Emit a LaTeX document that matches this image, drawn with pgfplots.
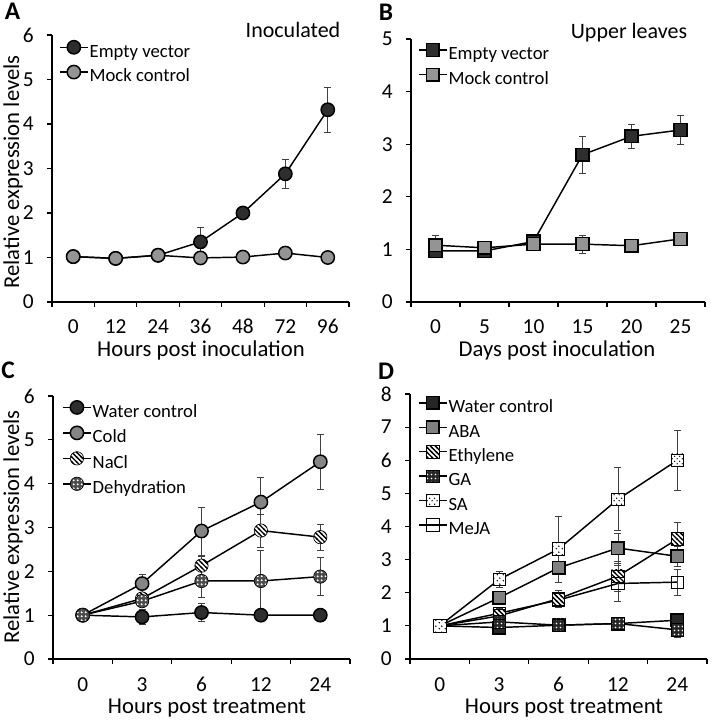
\documentclass[border=0pt]{standalone}
\usepackage{fontspec}
\setmainfont{Carlito}
\usepackage{pgfplots}
\pgfplotsset{compat=1.18}
\usetikzlibrary{patterns}

\pgfdeclarepatternformonly{stripesNW}{\pgfqpoint{-1pt}{-1pt}}{\pgfqpoint{4.6pt}{4.6pt}}{\pgfqpoint{3.6pt}{3.6pt}}{%
  \pgfsetlinewidth{1pt}\pgfpathmoveto{\pgfqpoint{-0.5pt}{4.1pt}}\pgfpathlineto{\pgfqpoint{4.1pt}{-0.5pt}}\pgfusepath{stroke}}
\pgfdeclarepatternformonly{holesD}{\pgfqpoint{0pt}{0pt}}{\pgfqpoint{3pt}{3pt}}{\pgfqpoint{3pt}{3pt}}{%
  \pgfpathcircle{\pgfqpoint{1.5pt}{1.5pt}}{0.95pt}\pgfusepath{fill}}
\pgfdeclarepatternformonly{dotsGA}{\pgfqpoint{0pt}{0pt}}{\pgfqpoint{2.6pt}{2.6pt}}{\pgfqpoint{2.6pt}{2.6pt}}{%
  \pgfpathcircle{\pgfqpoint{1.3pt}{1.3pt}}{0.75pt}\pgfusepath{fill}}
\pgfdeclarepatternformonly{dotsSA}{\pgfqpoint{0pt}{0pt}}{\pgfqpoint{4pt}{4pt}}{\pgfqpoint{4pt}{4pt}}{%
  \pgfpathcircle{\pgfqpoint{1pt}{1pt}}{0.6pt}\pgfpathcircle{\pgfqpoint{3pt}{3pt}}{0.6pt}\pgfusepath{fill}}

\def\circpath{\pgfpathcircle{\pgfpointorigin}{\pgfplotmarksize}}
\def\sqpath{\pgfpathrectangle{\pgfqpoint{-\pgfplotmarksize}{-\pgfplotmarksize}}{\pgfqpoint{2\pgfplotmarksize}{2\pgfplotmarksize}}}
\newcommand\declpatmark[5]{%
  \pgfdeclareplotmark{#1}{\pgfscope#2\pgfsetfillcolor{#3}\pgfusepathqfill
    #2\pgfsetfillpattern{#4}{#5}\pgfusepathqfillstroke\endpgfscope}}
\declpatmark{cNaCl}{\circpath}{white}{stripesNW}{black}
\declpatmark{cDehy}{\circpath}{black!70}{holesD}{white}
\declpatmark{sEth}{\sqpath}{white}{stripesNW}{black}
\declpatmark{sGA}{\sqpath}{black!85}{dotsGA}{white}
\declpatmark{sSA}{\sqpath}{white}{dotsSA}{black}

\pgfplotsset{
  panel/.style={
    scale only axis, anchor=south west, clip=false,
    axis lines=left, axis line style={-, line width=0.9pt},
    tick align=outside, major tick length=3.5pt,
    tick style={line width=0.9pt, black},
    /pgf/number format/assume math mode=true,
    tick label style={font=\fontsize{16}{18}\selectfont},
    yticklabel style={anchor=east, inner sep=0pt, xshift=-10pt},
    xticklabels={},
    extra x tick style={major tick length=0pt, xticklabel style={anchor=base, inner sep=0pt, yshift=-24pt}},
    legend cell align=left,
    legend image code/.code={\draw[mark repeat=2,mark phase=2,##1] plot coordinates {(0pt,3.8pt) (10.5pt,3.8pt) (21pt,3.8pt)};},
    legend style={draw=none, fill=none, inner sep=0pt, outer sep=0pt, anchor=north west,
      row sep=2.5pt, /tikz/column sep=0pt,
      nodes={inner sep=0.8pt, text height=10pt, text depth=3pt, font=\fontsize{14}{15}\selectfont}},
  },
  ser/.style={black, line width=1.1pt, mark size=#1,
    mark options={solid, line width=0.5pt, draw=black},
    /pgfplots/error bars/y dir=both, /pgfplots/error bars/y explicit,
    /pgfplots/error bars/error bar style={line width=0.6pt, black!75},
    /pgfplots/error bars/error mark options={rotate=90, mark size=2.6pt, line width=0.6pt, black!75}},
  ser/.default=5pt,
}

\begin{document}
\begin{tikzpicture}
\path[use as bounding box] (0,0) rectangle (535.5pt,544.5pt);

% ---------- A ----------
\begin{axis}[panel, at={(39pt,318pt)}, width=222.75pt, height=200.25pt,
  xmin=-0.5, xmax=6.5, xtick={-0.5,0.5,...,6.5},
  extra x ticks={0,1,2,3,4,5,6}, extra x tick labels={0,12,24,36,48,72,96},
  ymin=0, ymax=6, ytick={0,...,6},
  legend style={at={(axis description cs:0.024,0.979)}}]
\addplot[ser, mark=*, mark options={fill=black!82}] table[x=x,y=y,y error=e] {
x y e
0 1.02 0.05
1 0.98 0.05
2 1.05 0.05
3 1.35 0.33
4 2.00 0.08
5 2.88 0.32
6 4.32 0.50
};
\addlegendentry{Empty vector}
\addplot[ser, mark=*, mark options={fill=black!42}] table[x=x,y=y,y error=e] {
x y e
0 1.02 0.05
1 0.98 0.04
2 1.05 0.05
3 0.99 0.05
4 1.01 0.05
5 1.10 0.06
6 1.00 0.05
};
\addlegendentry{Mock control}
\end{axis}

% ---------- B ----------
\begin{axis}[panel, at={(308.25pt,318pt)}, width=220.5pt, height=197.25pt,
  xmin=-0.5, xmax=5.5, xtick={-0.5,0.5,...,5.5},
  extra x ticks={0,1,2,3,4,5}, extra x tick labels={0,5,10,15,20,25},
  ymin=0, ymax=5, ytick={0,...,5},
  legend style={at={(axis description cs:0.024,0.982)}}]
\addplot[ser=4.8pt, mark=square*, mark options={fill=black!82}] table[x=x,y=y,y error=e] {
x y e
0 0.97 0.10
1 0.97 0.05
2 1.15 0.06
3 2.80 0.35
4 3.15 0.23
5 3.27 0.27
};
\addlegendentry{Empty vector}
\addplot[ser=4.8pt, mark=square*, mark options={fill=black!42}] table[x=x,y=y,y error=e] {
x y e
0 1.08 0.18
1 1.03 0.05
2 1.10 0.06
3 1.10 0.17
4 1.07 0.06
5 1.20 0.06
};
\addlegendentry{Mock control}
\end{axis}

% ---------- C ----------
\begin{axis}[panel, at={(39.75pt,50.25pt)}, width=222.75pt, height=197.25pt,
  xmin=-0.5, xmax=4.5, xtick={-0.5,0.5,...,4.5},
  extra x ticks={0,1,2,3,4}, extra x tick labels={0,3,6,12,24},
  ymin=0, ymax=6, ytick={0,...,6},
  legend style={at={(axis description cs:0.031,0.982)}, row sep=3pt}]
\addplot[ser, mark=*, mark options={fill=black!82}] table[x=x,y=y,y error=e] {
x y e
0 1.00 0.02
1 0.96 0.17
2 1.06 0.20
3 1.00 0.10
4 1.00 0.05
};
\addlegendentry{Water control}
\addplot[ser, mark=*, mark options={fill=black!48}] table[x=x,y=y,y error=e] {
x y e
0 1.00 0.00
1 1.72 0.22
2 2.92 0.55
3 3.58 0.57
4 4.50 0.63
};
\addlegendentry{Cold}
\addplot[ser, mark=cNaCl] table[x=x,y=y,y error=e] {
x y e
0 1.00 0.00
1 1.38 0.10
2 2.13 0.22
3 2.93 0.38
4 2.78 0.30
};
\addlegendentry{NaCl}
\addplot[ser, mark=cDehy] table[x=x,y=y,y error=e] {
x y e
0 1.00 0.00
1 1.32 0.10
2 1.78 0.38
3 1.78 0.70
4 1.88 0.43
};
\addlegendentry{Dehydration}
\end{axis}

% ---------- D ----------
\begin{axis}[panel, at={(307.5pt,50.25pt)}, width=222.75pt, height=198.75pt,
  xmin=-0.5, xmax=4.5, xtick={-0.5,0.5,...,4.5},
  extra x ticks={0,1,2,3,4}, extra x tick labels={0,3,6,12,24},
  ymin=0, ymax=8, ytick={0,...,8},
  legend style={at={(axis description cs:0.027,0.99)}}]
\addplot[ser=4.7pt, mark=square*, mark options={fill=black!85}] table[x=x,y=y,y error=e] {
x y e
0 1.00 0.02
1 0.95 0.10
2 1.02 0.08
3 1.07 0.10
4 1.17 0.10
};
\addlegendentry{Water control}
\addplot[ser=4.7pt, mark=square*, mark options={fill=black!50}] table[x=x,y=y,y error=e] {
x y e
0 1.00 0.00
1 1.85 0.20
2 2.75 0.45
3 3.35 0.45
4 3.10 0.30
};
\addlegendentry{ABA}
\addplot[ser=4.7pt, mark=sEth] table[x=x,y=y,y error=e] {
x y e
0 1.00 0.00
1 1.30 0.15
2 1.82 0.25
3 2.50 0.45
4 3.62 0.50
};
\addlegendentry{Ethylene}
\addplot[ser=4.7pt, mark=sGA] table[x=x,y=y,y error=e] {
x y e
0 1.00 0.00
1 1.12 0.10
2 1.02 0.08
3 1.07 0.12
4 0.88 0.22
};
\addlegendentry{GA}
\addplot[ser=4.7pt, mark=sSA] table[x=x,y=y,y error=e] {
x y e
0 1.00 0.00
1 2.40 0.25
2 3.32 1.00
3 4.82 0.95
4 6.00 0.90
};
\addlegendentry{SA}
\addplot[ser=4.7pt, mark=square] table[x=x,y=y,y error=e] {
x y e
0 1.00 0.00
1 1.38 0.15
2 1.78 0.20
3 2.28 0.55
4 2.32 0.40
};
\addlegendentry{MeJA}
\end{axis}

% ---------- text ----------
\begin{scope}[x=0.75pt, y=-0.75pt, yshift=544.5pt]
\node[font=\bfseries\fontsize{19}{20}\selectfont] at (12.5,11) {A};
\node[font=\bfseries\fontsize{19}{20}\selectfont] at (386,12) {B};
\node[font=\bfseries\fontsize{19}{20}\selectfont] at (8,370) {C};
\node[font=\bfseries\fontsize{19}{20}\selectfont] at (386,371) {D};
\node[font=\fontsize{16.5}{18}\selectfont] at (293,30) {Inoculated};
\node[font=\fontsize{16.5}{18}\selectfont] at (629,33) {Upper leaves};
\node[font=\fontsize{17}{18}\selectfont] at (201,350) {Hours post inoculation};
\node[font=\fontsize{17}{18}\selectfont] at (557,350) {Days post inoculation};
\node[font=\fontsize{17}{18}\selectfont] at (207,708) {Hours post treatment};
\node[font=\fontsize{17}{18}\selectfont] at (564,708) {Hours post treatment};
\node[font=\fontsize{17}{18}\selectfont, rotate=90] at (13,172) {Relative expression levels};
\node[font=\fontsize{17}{18}\selectfont, rotate=90] at (13,527) {Relative expression levels};
\end{scope}
\end{tikzpicture}
\end{document}
